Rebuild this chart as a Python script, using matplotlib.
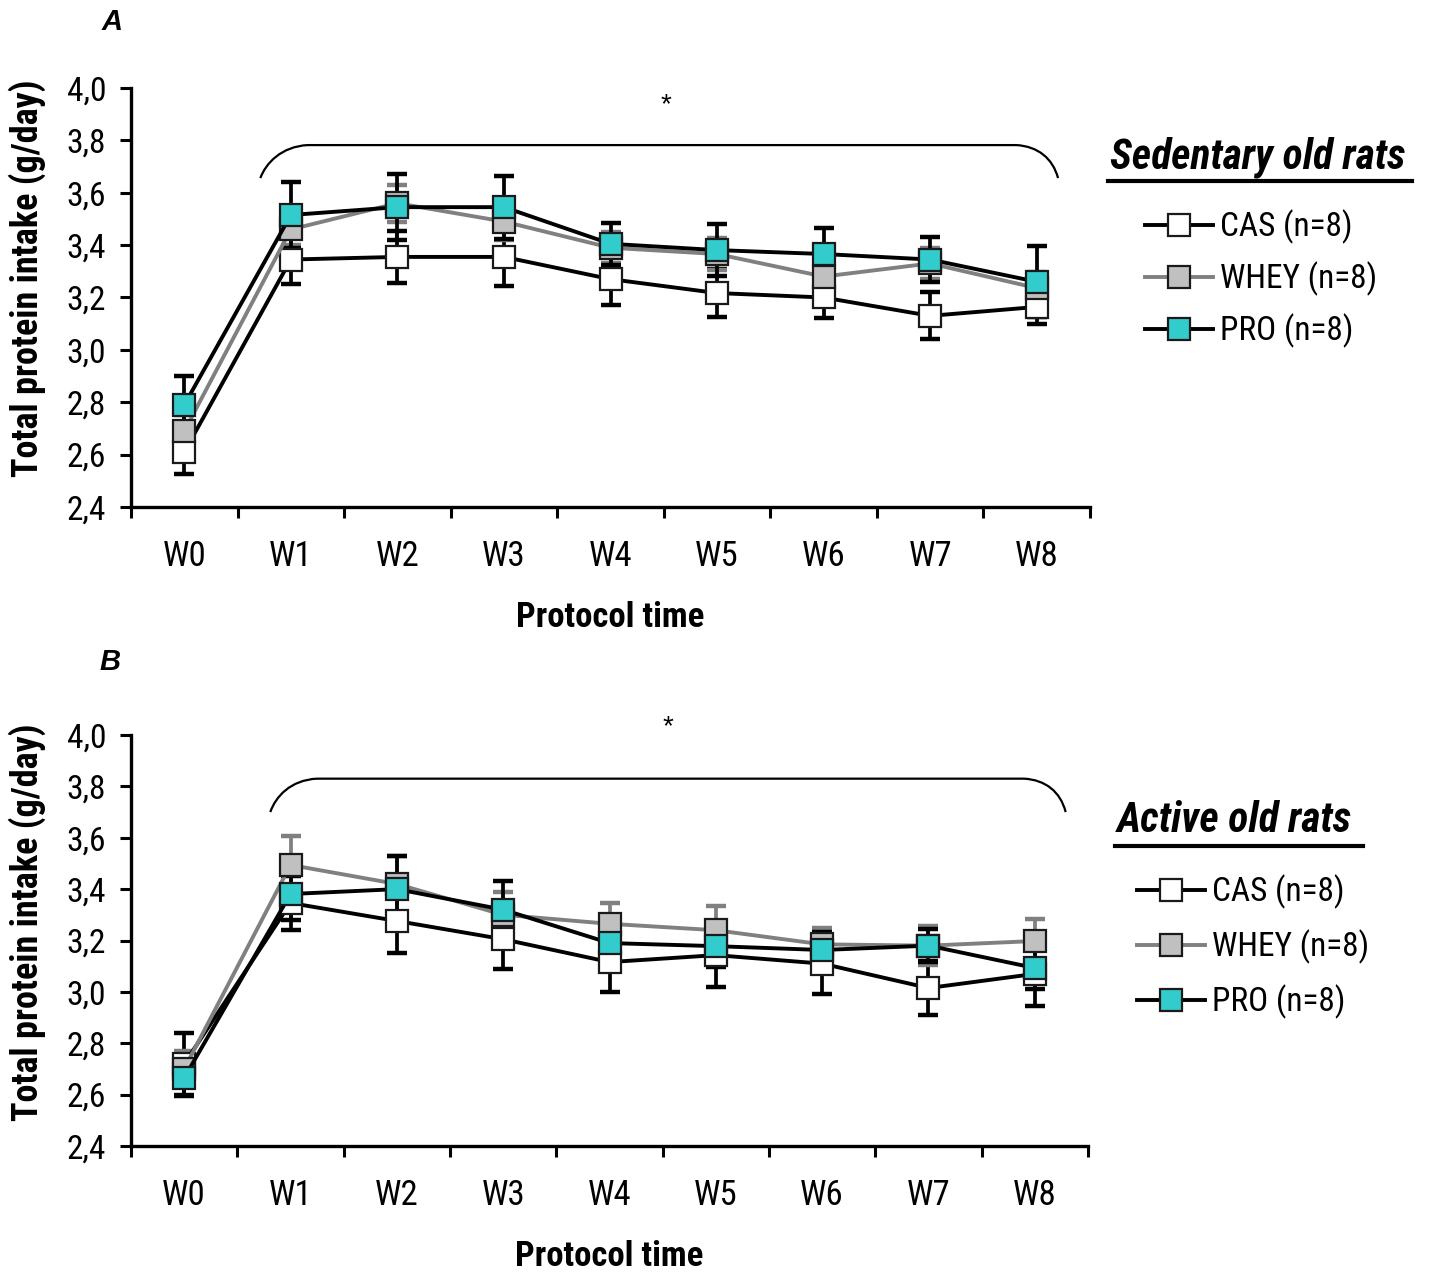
import matplotlib
matplotlib.use("Agg")
import matplotlib.pyplot as plt
from matplotlib.lines import Line2D
from matplotlib.path import Path
from matplotlib.patches import PathPatch
import numpy as np

weeks = ['W0', 'W1', 'W2', 'W3', 'W4', 'W5', 'W6', 'W7', 'W8']
y_ticks = [2.4, 2.6, 2.8, 3.0, 3.2, 3.4, 3.6, 3.8, 4.0]
y_ticklabels = ['2,4', '2,6', '2,8', '3,0', '3,2', '3,4', '3,6', '3,8', '4,0']
groups = ['CAS (n=8)', 'WHEY (n=8)', 'PRO (n=8)']

# Panel A - Sedentary old rats
cas_A = [2.61, 3.345, 3.355, 3.355, 3.27, 3.217, 3.20, 3.13, 3.164]
whey_A = [2.69, 3.46, 3.56, 3.49, 3.39, 3.366, 3.28, 3.33, 3.236]
pro_A = [2.79, 3.515, 3.545, 3.545, 3.405, 3.381, 3.366, 3.345, 3.26]
cas_A_se = [0.085, 0.095, 0.10, 0.11, 0.10, 0.09, 0.08, 0.09, 0.065]
whey_A_se = [0.06, 0.06, 0.07, 0.07, 0.06, 0.06, 0.06, 0.06, 0.06]
pro_A_se = [0.11, 0.125, 0.125, 0.12, 0.08, 0.10, 0.10, 0.085, 0.135]

# Panel B - Active old rats
cas_B = [2.72, 3.346, 3.276, 3.205, 3.116, 3.143, 3.11, 3.015, 3.07]
whey_B = [2.70, 3.494, 3.42, 3.30, 3.265, 3.24, 3.185, 3.18, 3.198]
pro_B = [2.665, 3.381, 3.40, 3.32, 3.19, 3.178, 3.163, 3.18, 3.093]
cas_B_se = [0.12, 0.106, 0.126, 0.115, 0.116, 0.123, 0.12, 0.105, 0.125]
whey_B_se = [0.07, 0.113, 0.11, 0.09, 0.08, 0.094, 0.063, 0.076, 0.086]
pro_B_se = [0.07, 0.10, 0.13, 0.11, 0.08, 0.08, 0.07, 0.065, 0.08]

FONT = ['Roboto Condensed', 'Liberation Sans', 'DejaVu Sans']
FONT_W = ['Liberation Sans', 'DejaVu Sans']
plt.rcParams['font.family'] = FONT

W, H = 1429, 1277
fig = plt.figure(figsize=(W / 100, H / 100), dpi=100)

def fx(px):
    return px / W

def fy(py):
    return 1 - py / H

line_colors = ['black', '#808080', 'black']
face_colors = ['white', '#C0C0C0', '#33CCCC']
err_colors = ['black', '#808080', 'black']


def brace(ax, x0, x1, xa, xb, ylow, ytop):
    verts = [(x0, ylow), (x0 + 0.05, ytop - 0.07), (xa - 0.25, ytop - 0.005), (xa, ytop),
             (xb, ytop),
             (xb + 0.2, ytop - 0.005), (x1 - 0.05, ytop - 0.05), (x1, ylow)]
    codes = [Path.MOVETO, Path.CURVE4, Path.CURVE4, Path.CURVE4,
             Path.LINETO,
             Path.CURVE4, Path.CURVE4, Path.CURVE4]
    p = PathPatch(Path(verts, codes), facecolor='none', edgecolor='black',
                  lw=1.6, clip_on=False, zorder=5)
    ax.add_patch(p)


def panel(rect, series, ses, letter, letter_xy, title, title_xy, ul, legend_xy,
          spacing, brace_args, star_xy, ylab_y):
    ax = fig.add_axes(rect)
    x = np.arange(len(weeks))
    handles = []
    for i, (vals, se) in enumerate(zip(series, ses)):
        ax.errorbar(x, vals, yerr=se, fmt='none', ecolor=err_colors[i],
                    elinewidth=2.7, capsize=7.5, capthick=3.2, zorder=2 + i * 0.1)
    for i, vals in enumerate(series):
        ln, = ax.plot(x, vals, color=line_colors[i], lw=2.8,
                      marker='s', markersize=16, markerfacecolor=face_colors[i],
                      markeredgecolor='#1a1a1a', markeredgewidth=1.6, label=groups[i])
        ln.set_zorder(3 + i)
        handles.append(ln)
    ax.set_xlim(-0.5, 8.5)
    ax.set_ylim(2.4, 4.0)
    ax.set_xticks(np.arange(-0.5, 9.0, 1.0))
    ax.set_xticklabels([])
    ax.set_xticks(x, minor=True)
    ax.set_xticklabels(weeks, minor=True, fontsize=25)
    ax.tick_params(axis='x', which='major', length=8, width=2.2, direction='out')
    ax.tick_params(axis='x', which='minor', length=0, pad=24)
    ax.set_yticks(y_ticks)
    ax.set_yticklabels(y_ticklabels, fontsize=24)
    ax.tick_params(axis='y', length=8, width=2.2, direction='out', pad=10)
    for s in ['top', 'right']:
        ax.spines[s].set_visible(False)
    for s in ['left', 'bottom']:
        ax.spines[s].set_linewidth(2.4)
    ax.set_xlabel('Protocol time', fontsize=25, fontweight='bold', labelpad=20)
    ax.set_ylabel('Total protein intake (g/day)', fontsize=26, fontweight='bold')
    ax.yaxis.set_label_coords(-0.089, ylab_y)
    brace(ax, *brace_args)
    ax.text(star_xy[0], star_xy[1], '*', fontsize=20, ha='center', va='center',
            family=FONT_W, clip_on=False)
    fig.text(fx(letter_xy[0]), fy(letter_xy[1]), letter, fontsize=21,
             fontweight='bold', style='italic', family=FONT_W, ha='center', va='center')
    fig.text(fx(title_xy[0]), fy(title_xy[1]), title, fontsize=30, fontweight='bold',
             style='italic', ha='left', va='center')
    fig.add_artist(Line2D([fx(ul[0]), fx(ul[1])], [fy(ul[2]), fy(ul[2])],
                          color='black', lw=3.0, transform=fig.transFigure))
    ax.legend(handles=handles, loc='center left',
              bbox_to_anchor=(fx(legend_xy[0]), fy(legend_xy[1])),
              bbox_transform=fig.transFigure, frameon=False, fontsize=24,
              handlelength=2.05, handletextpad=0.2, labelspacing=spacing,
              numpoints=1, borderpad=0, borderaxespad=0)
    return ax


axA = panel([fx(131), fy(507), fx(1090) - fx(131), fy(88) - fy(507)],
            [cas_A, whey_A, pro_A], [cas_A_se, whey_A_se, pro_A_se],
            'A', (112, 22), 'Sedentary old rats', (1110, 157), (1108, 1412, 181),
            (1145, 279), 0.52,
            (0.714, 8.2, 1.16, 7.81, 3.656, 3.782), (4.52, 3.935), 0.547)

axB = panel([fx(131), fy(1146), fx(1088) - fx(131), fy(735) - fy(1146)],
            [cas_B, whey_B, pro_B], [cas_B_se, whey_B_se, pro_B_se],
            'B', (110, 662), 'Active old rats', (1117, 821), (1115, 1363, 846),
            (1137, 947), 0.62,
            (0.81, 8.29, 1.25, 7.9, 3.70, 3.83), (4.55, 4.03), 0.545)

fig.savefig('out.png', dpi=100)
